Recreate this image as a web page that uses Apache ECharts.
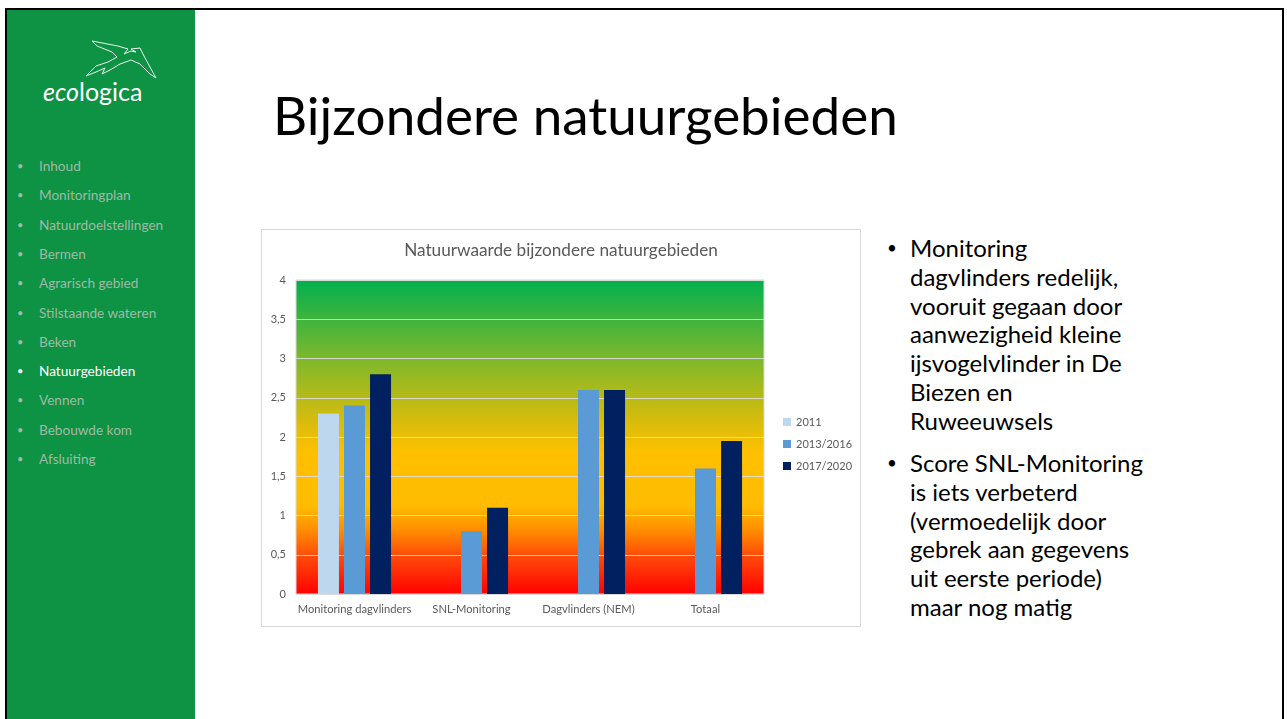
<!DOCTYPE html>
<html>
<head>
<meta charset="utf-8">
<script src="https://cdn.jsdelivr.net/npm/echarts@6/dist/echarts.min.js"></script>
<style>
  html, body { margin: 0; padding: 0; background: #fff; }
  body { width: 1287px; height: 719px; position: relative; overflow: hidden; font-family: Lato, 'Open Sans', sans-serif; }
  .frame { position: absolute; left: 5px; top: 8px; width: 1275px; height: 720px; border: 2px solid #000; border-bottom: none; }
  .side { position: absolute; left: 7px; top: 10px; width: 188px; height: 709px; background: #0e9244; }
  .logo { position: absolute; left: 36px; top: 66px; color: #fff; font-size: 25px; line-height: 30px; }
  .menu { position: absolute; left: 0; top: 0; }
  .menu div { position: absolute; left: 32px; font-size: 13.6px; color: #9fbaa6; white-space: nowrap; line-height: 16px; }
  .menu div::before { content: '•'; position: absolute; left: -22px; font-size: 11px; }
  .menu div.on { color: #fff; }
  .title { position: absolute; left: 273px; top: 85px; font-size: 53px; color: #000; white-space: nowrap; line-height: 60px; }
  .box { position: absolute; left: 261px; top: 229px; width: 598px; height: 396px; border: 1px solid #d9d9d9; }
  #main { width: 598px; height: 396px; }
  .bullets { position: absolute; left: 910px; top: 234px; font-size: 24px; line-height: 28.8px; color: #000; }
  .bullets p { margin: 0 0 13.5px 0; position: relative; white-space: nowrap; }
  .bullets p::before { content: '•'; position: absolute; left: -23px; font-size: 17px; }
</style>
</head>
<body>
<div class="frame"></div>
<div class="side">
  <svg style="position:absolute;left:0;top:0" width="188" height="110">
    <g fill="none" stroke="#fff" stroke-width="1" opacity="0.9" transform="translate(-7,-10)">
      <path d="M92 41 L118 46 L128 49 L124 54 L131 51 L136 52 L131 49 L140 48 L144 56 L150 67 L156 78 L150 74 L140 64 L131 60 L120 64 L110 70 L102 74 L105 68 L96 72 L86 76 L96 66 L108 62 L117 57 L112 52 L97 46 Z"/>
    </g>
  </svg>
  <div class="logo"><i>eco</i>logica</div>
  <div class="menu" id="menu"></div>
</div>
<div class="title">Bijzondere natuurgebieden</div>
<div class="box"><div id="main"></div></div>
<div class="bullets">
  <p>Monitoring<br>dagvlinders redelijk,<br>vooruit gegaan door<br>aanwezigheid kleine<br>ijsvogelvlinder in De<br>Biezen en<br>Ruweeuwsels</p>
  <p>Score SNL-Monitoring<br>is iets verbeterd<br>(vermoedelijk door<br>gebrek aan gegevens<br>uit eerste periode)<br>maar nog matig</p>
</div>
<script>
const menuItems = ['Inhoud', 'Monitoringplan', 'Natuurdoelstellingen', 'Bermen', 'Agrarisch gebied', 'Stilstaande wateren', 'Beken', 'Natuurgebieden', 'Vennen', 'Bebouwde kom', 'Afsluiting']
const activeItem = 'Natuurgebieden'

const categories = ['Monitoring dagvlinders', 'SNL-Monitoring', 'Dagvlinders (NEM)', 'Totaal']
const seriesNames = ['2011', '2013/2016', '2017/2020']
const values2011 = [2.3, null, null, null]
const values2013 = [2.4, 0.8, 2.6, 1.6]
const values2017 = [2.8, 1.1, 2.6, 1.95]
const seriesColors = ['#bdd7ee', '#5b9bd5', '#002060']

// sidebar menu
const menu = document.getElementById('menu')
menuItems.forEach(function (name, i) {
  const el = document.createElement('div')
  el.textContent = name
  el.style.top = (148 + i * 29.3) + 'px'
  if (name === activeItem) el.className = 'on'
  menu.appendChild(el)
})

const chartDom = document.getElementById('main')
const myChart = echarts.init(chartDom)
const font = 'Lato, sans-serif'
const bg = new echarts.graphic.LinearGradient(0, 0, 0, 1, [
  { offset: 0, color: '#00b050' },
  { offset: 0.25, color: '#7cb82c' },
  { offset: 0.45, color: '#d8bc0c' },
  { offset: 0.55, color: '#ffc000' },
  { offset: 0.72, color: '#ffbc00' },
  { offset: 0.8, color: '#ff8a00' },
  { offset: 0.88, color: '#ff4a0a' },
  { offset: 1, color: '#ff0000' }
])
const allValues = [values2011, values2013, values2017]

const option = {
  animation: false,
  title: {
    text: 'Natuurwaarde bijzondere natuurgebieden',
    left: 'center',
    top: 12,
    padding: 0,
    textStyle: { fontFamily: font, fontSize: 17.2, fontWeight: 'normal', color: '#595959' }
  },
  legend: {
    orient: 'vertical',
    left: 521,
    top: 185,
    padding: 0,
    itemWidth: 8,
    itemHeight: 8,
    itemGap: 8,
    icon: 'rect',
    data: seriesNames,
    textStyle: { fontFamily: font, fontSize: 11, color: '#595959', lineHeight: 14 }
  },
  grid: {
    left: 34,
    right: 96,
    top: 50,
    bottom: 32,
    show: true,
    backgroundColor: bg,
    borderColor: '#d9d9d9',
    borderWidth: 1
  },
  xAxis: {
    type: 'category',
    data: categories,
    axisTick: { show: false },
    axisLine: { lineStyle: { color: '#d9d9d9' } },
    axisLabel: { fontFamily: font, fontSize: 11.2, color: '#595959', margin: 10, interval: 0 }
  },
  yAxis: {
    type: 'value',
    min: 0,
    max: 4,
    interval: 0.5,
    axisLine: { show: false },
    axisTick: { show: false },
    splitLine: { lineStyle: { color: 'rgba(225,225,225,0.85)', width: 1.2 } },
    axisLabel: {
      fontFamily: font,
      fontSize: 11,
      color: '#595959',
      margin: 10,
      formatter: function (v) { return String(v).replace('.', ',') }
    }
  },
  series: seriesNames.map(function (name, i) {
    return {
      name: name,
      type: 'bar',
      barWidth: 21,
      barGap: '24%',
      itemStyle: { color: seriesColors[i] },
      data: allValues[i]
    }
  })
}
myChart.setOption(option)
</script>
</body>
</html>
